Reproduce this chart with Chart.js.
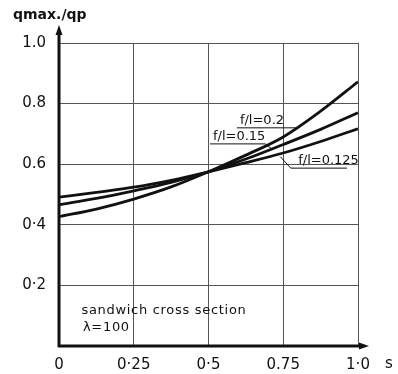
<!DOCTYPE html>
<html>
<head>
<meta charset="utf-8">
<script src="https://cdn.jsdelivr.net/npm/chart.js@4"></script>
<style>
  html, body { margin: 0; padding: 0; background: #fff; }
  #wrap { width: 398px; height: 374px; position: relative; }
</style>
</head>
<body>
<div id="wrap"><canvas id="chart"></canvas></div>
<script>
// relative position s along the span
const sValues = [0, 0.125, 0.25, 0.375, 0.5, 0.625, 0.75, 0.875, 1.0];

// qmax./qp for each rise ratio f/l
const qFl200 = [0.427, 0.452, 0.485, 0.525, 0.575, 0.630, 0.690, 0.775, 0.872];
const qFl150 = [0.466, 0.487, 0.512, 0.540, 0.575, 0.617, 0.665, 0.715, 0.770];
const qFl125 = [0.491, 0.507, 0.524, 0.547, 0.575, 0.605, 0.637, 0.675, 0.717];

const xTicks = [0, 0.25, 0.5, 0.75, 1.0];
const xTickLabels = ['0', '0·25', '0·5', '0.75', '1·0'];
const yTicks = [0, 0.2, 0.4, 0.6, 0.8, 1.0];
const yTickLabels = ['', '0·2', '0·4', '0.6', '0.8', '1.0'];

const ink = '#111';
const gridInk = '#555';

function toPoints(ys) {
    return sValues.map((s, i) => ({x: s, y: ys[i]}));
}

function curve(label, ys) {
    return {
        label: label,
        data: toPoints(ys),
        borderColor: ink,
        borderWidth: 2.8,
        pointRadius: 0,
        fill: false,
        cubicInterpolationMode: 'monotone'
    };
}

// curve labels with underline / leader, in data coordinates
const curveNotes = [
    {text: 'f/l=0.2', at: [0.605, 0.733], line: [[0.595, 0.720], [0.795, 0.720]]},
    {text: 'f/l=0.15', at: [0.515, 0.680], line: [[0.505, 0.667], [0.690, 0.667], [0.715, 0.648]]},
    {text: 'f/l=0.125', at: [0.800, 0.600], line: [[0.740, 0.625], [0.775, 0.587], [0.963, 0.587]]}
];

const decorations = {
    id: 'decorations',
    afterDraw(chart) {
        const ctx = chart.ctx;
        const xs = chart.scales.x, ys = chart.scales.y;
        const x0 = xs.getPixelForValue(0), y0 = ys.getPixelForValue(0);
        ctx.save();

        // axes with arrows
        ctx.strokeStyle = ink;
        ctx.fillStyle = ink;
        ctx.lineWidth = 3;
        ctx.beginPath();
        ctx.moveTo(x0, y0 + 1);
        ctx.lineTo(x0, 32);
        ctx.moveTo(x0 - 1, y0);
        ctx.lineTo(362, y0);
        ctx.stroke();
        ctx.beginPath();
        ctx.moveTo(x0, 25); ctx.lineTo(x0 - 3.5, 35); ctx.lineTo(x0 + 3.5, 35); ctx.closePath();
        ctx.moveTo(369, y0); ctx.lineTo(359, y0 - 3.5); ctx.lineTo(359, y0 + 3.5); ctx.closePath();
        ctx.fill();

        // axis titles
        ctx.font = 'bold 14px "DejaVu Sans"';
        ctx.textBaseline = 'alphabetic';
        ctx.textAlign = 'left';
        ctx.fillText('qmax./qp', 13, 19);
        ctx.font = '15px "DejaVu Sans"';
        ctx.fillText('s', 385, 368);

        // curve labels
        ctx.lineWidth = 1;
        ctx.font = '13px "DejaVu Sans"';
        curveNotes.forEach(n => {
            ctx.fillText(n.text, xs.getPixelForValue(n.at[0]), ys.getPixelForValue(n.at[1]));
            ctx.beginPath();
            n.line.forEach((p, i) => {
                const px = xs.getPixelForValue(p[0]), py = ys.getPixelForValue(p[1]);
                if (i === 0) ctx.moveTo(px, py); else ctx.lineTo(px, py);
            });
            ctx.stroke();
        });

        // caption
        ctx.font = '13px "DejaVu Sans"';
        ctx.letterSpacing = '0.7px';
        ctx.fillText('sandwich cross section', xs.getPixelForValue(0.075), ys.getPixelForValue(0.105));
        ctx.fillText('λ=100', xs.getPixelForValue(0.08), ys.getPixelForValue(0.05));
        ctx.restore();
    }
};

new Chart(document.getElementById('chart').getContext('2d'), {
    type: 'line',
    data: {
        datasets: [
            curve('f/l=0.2', qFl200),
            curve('f/l=0.15', qFl150),
            curve('f/l=0.125', qFl125)
        ]
    },
    options: {
        responsive: true,
        maintainAspectRatio: false,
        animation: false,
        layout: {padding: {top: 43, right: 40, left: 0, bottom: 0}},
        plugins: {legend: {display: false}, tooltip: {enabled: false}},
        scales: {
            x: {
                type: 'linear',
                min: 0, max: 1,
                afterFit: (scale) => { scale.height = 28; },
                afterBuildTicks: (scale) => { scale.ticks = xTicks.map(v => ({value: v})); },
                ticks: {
                    padding: 10,
                    color: ink,
                    font: {family: 'DejaVu Sans', size: 15},
                    maxRotation: 0,
                    callback: (v) => xTickLabels[xTicks.indexOf(v)]
                },
                grid: {color: gridInk, lineWidth: 1, drawTicks: false},
                border: {display: false}
            },
            y: {
                min: 0, max: 1,
                afterFit: (scale) => { scale.width = 59; },
                afterBuildTicks: (scale) => { scale.ticks = yTicks.map(v => ({value: v})); },
                ticks: {
                    padding: 13,
                    color: ink,
                    font: {family: 'DejaVu Sans', size: 15},
                    callback: (v) => yTickLabels[yTicks.indexOf(v)]
                },
                grid: {color: gridInk, lineWidth: 1, drawTicks: false},
                border: {display: false}
            }
        }
    },
    plugins: [decorations]
});
</script>
</body>
</html>
